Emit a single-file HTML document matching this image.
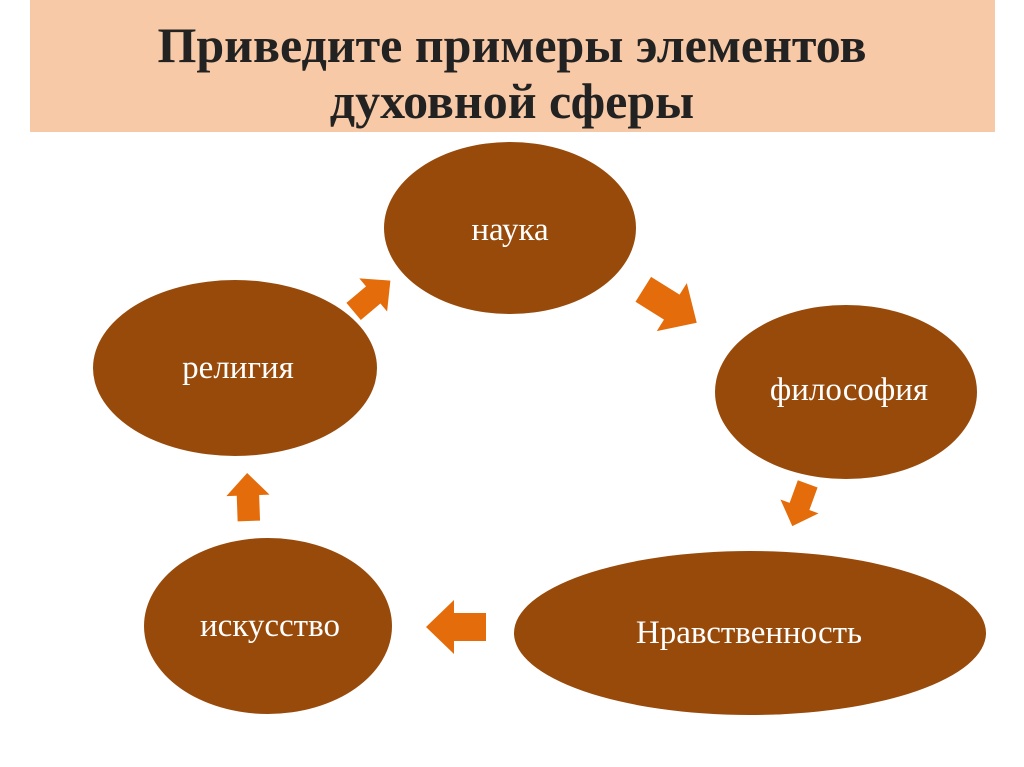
<!DOCTYPE html>
<html><head><meta charset="utf-8"><style>
html,body{margin:0;padding:0;background:#fff;}
svg{display:block}
</style></head><body>
<svg width="1024" height="767" viewBox="0 0 1024 767" xmlns="http://www.w3.org/2000/svg">
<rect x="0" y="0" width="1024" height="767" fill="#fff"/>
<rect x="30" y="0" width="965" height="132" fill="#f8c9a6"/>
<g font-family="'Liberation Serif', serif" font-weight="bold" font-size="50" fill="#222" text-anchor="middle">
<text x="512" y="62">Приведите примеры элементов</text>
<text x="512" y="118">духовной сферы</text>
</g>
<g fill="#984a0b">
<ellipse cx="510" cy="228" rx="126" ry="86"/>
<ellipse cx="235" cy="368" rx="142" ry="88"/>
<ellipse cx="846" cy="392" rx="131" ry="87"/>
<ellipse cx="268" cy="626" rx="124" ry="88"/>
<ellipse cx="750" cy="633" rx="236" ry="82"/>
</g>
<g font-family="'Liberation Serif', serif" font-size="33" fill="#fff" text-anchor="middle">
<text x="510" y="240">наука</text>
<text x="238" y="378">религия</text>
<text x="849" y="400">философия</text>
<text x="270" y="636">искусство</text>
<text x="749" y="643">Нравственность</text>
</g>
<defs>
<polygon id="ar" points="-30,-14 2,-14 2,-27 30,0 2,27 2,14 -30,14" fill="#e46c0a"/>
</defs>
<use href="#ar" transform="translate(456,627) rotate(180)"/>
<use href="#ar" transform="translate(248,497) rotate(-92) scale(0.8)"/>
<use href="#ar" transform="translate(372,296) rotate(-40) scale(0.8)"/>
<use href="#ar" transform="translate(670,306) rotate(32) scale(1.05)"/>
<use href="#ar" transform="translate(800,505) rotate(110) scale(0.75)"/>
</svg>
</body></html>
